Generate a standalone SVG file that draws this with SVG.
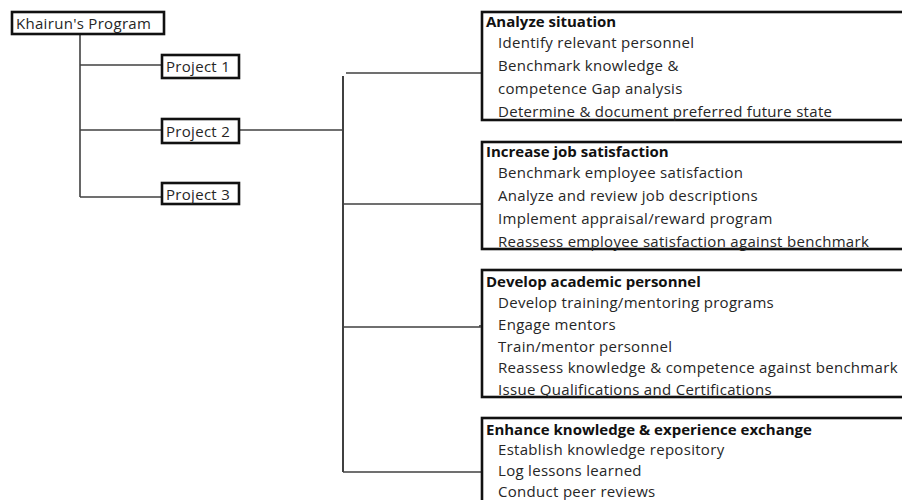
<svg xmlns="http://www.w3.org/2000/svg" width="902" height="500" viewBox="0 0 902 500">
<style>
.box{fill:#fff;stroke:#111;stroke-width:2.6}
.conn{fill:none;stroke:#404040;stroke-width:1.6}
text{font-family:"Open Sans","Noto Sans","Liberation Sans",sans-serif;font-size:15px;letter-spacing:0.3px;fill:#262626}
.t{font-weight:bold;fill:#111;letter-spacing:0}
</style>
<rect width="902" height="500" fill="#fff"/>
<g id="connectors">
<path class="conn" d="M80,34 V197"/>
<path class="conn" d="M80,65 H162"/>
<path class="conn" d="M80,130 H162"/>
<path class="conn" d="M80,197 H162"/>
<path class="conn" d="M239,130 H343"/>
<path class="conn" d="M343,76 V472" style="stroke-width:2"/>
<path class="conn" d="M346,73 H482"/>
<path class="conn" d="M343,204 H482"/>
<path class="conn" d="M343,327 H480 V325"/>
<path class="conn" d="M343,472 H482"/>
</g>
<g id="program">
<rect class="box" x="12" y="12" width="152" height="22"/>
<text x="16" y="29">Khairun's Program</text>
</g>
<g id="project1">
<rect class="box" x="162" y="55" width="77" height="23"/>
<text x="166" y="72">Project 1</text>
</g>
<g id="project2">
<rect class="box" x="162" y="119" width="77" height="24"/>
<text x="166" y="137">Project 2</text>
</g>
<g id="project3">
<rect class="box" x="162" y="183" width="77" height="21"/>
<text x="166" y="200">Project 3</text>
</g>
<g id="analyze">
<rect class="box" x="482" y="12" width="430" height="108"/>
<text class="t" x="486" y="27">Analyze situation</text>
<text x="498" y="48">Identify relevant personnel</text>
<text x="498" y="71">Benchmark knowledge &amp;</text>
<text x="498" y="94">competence Gap analysis</text>
<text x="498" y="117">Determine &amp; document preferred future state</text>
</g>
<g id="satisfaction">
<rect class="box" x="482" y="142" width="430" height="107"/>
<text class="t" x="486" y="157">Increase job satisfaction</text>
<text x="498" y="178">Benchmark employee satisfaction</text>
<text x="498" y="201">Analyze and review job descriptions</text>
<text x="498" y="224">Implement appraisal/reward program</text>
<text x="498" y="247">Reassess employee satisfaction against benchmark</text>
</g>
<g id="academic">
<rect class="box" x="482" y="270" width="430" height="127"/>
<text class="t" x="486" y="287">Develop academic personnel</text>
<text x="498" y="308">Develop training/mentoring programs</text>
<text x="498" y="330">Engage mentors</text>
<text x="498" y="352">Train/mentor personnel</text>
<text x="498" y="373">Reassess knowledge &amp; competence against benchmark</text>
<text x="498" y="395">Issue Qualifications and Certifications</text>
</g>
<g id="exchange">
<rect class="box" x="482" y="418" width="430" height="100"/>
<text class="t" x="486" y="435">Enhance knowledge &amp; experience exchange</text>
<text x="498" y="455">Establish knowledge repository</text>
<text x="498" y="476">Log lessons learned</text>
<text x="498" y="497">Conduct peer reviews</text>
</g>
</svg>
